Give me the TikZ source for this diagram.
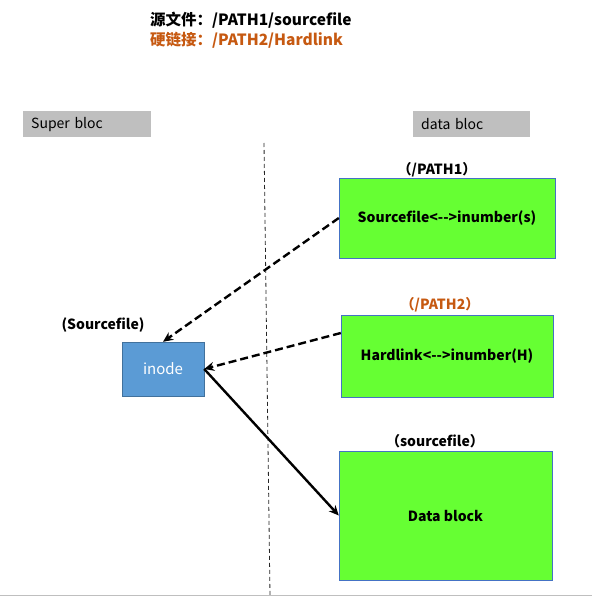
\documentclass[tikz,border=0pt]{standalone}
\usepackage{fontspec}
\setmainfont{Noto Sans CJK SC}
\usetikzlibrary{positioning,arrows.meta}
\definecolor{groen}{HTML}{66FF33}
\definecolor{rand}{HTML}{4472C4}
\definecolor{blauw}{HTML}{5B9BD5}
\definecolor{blauwrand}{HTML}{41719C}
\definecolor{oranje}{HTML}{C65911}
\definecolor{grijs}{HTML}{BFBFBF}

\begin{document}
\begin{tikzpicture}[x=1pt, y=-1pt, every node/.style={font=\fontsize{14}{16}\selectfont},
  kop/.style={anchor=west, inner sep=0pt, font=\fontsize{15.5}{18}\selectfont\bfseries},
  zone/.style={fill=grijs, anchor=north west, minimum height=26pt, inner xsep=8pt, align=left},
  blok/.style={draw=rand, fill=groen, font=\fontsize{14}{16}\selectfont\bfseries},
  naam/.style={font=\fontsize{14}{16}\selectfont\bfseries},
  pijl/.style={-{Stealth[length=10pt,width=9pt]}, line width=2.4pt},
  streep/.style={dash pattern=on 8pt off 4pt}]
  \useasboundingbox (0,0) rectangle (592,596);

  % kopregels
  \node[kop] (bron) at (150,20) {源文件：/PATH1/sourcefile};
  \node[kop, text=oranje] (link) at (150,40) {硬链接：/PATH2/Hardlink};

  % grijze zones
  \node[zone, text width=112pt] (super) at (23,111) {Super bloc};
  \node[zone, text width=101pt] (data) at (413,111) {data bloc};

  % scheidingslijn
  \draw[line width=0.8pt, dash pattern=on 4pt off 3pt, black!85] (264,143) -- (270,596);
  \draw[gray!50] (0,595) -- (592,595);

  % blokken
  \node[blok, minimum width=216pt, minimum height=80pt] (bestand) at (447,218) {Sourcefile<{-}{-}>inumber(s)};
  \node[blok, minimum width=212pt, minimum height=82pt] (hard) at (447,356) {Hardlink<{-}{-}>inumber(H)};
  \node[blok, minimum width=213pt, minimum height=129pt] (blokdata) at (445.5,515.5) {Data block};
  \node[draw=blauwrand, fill=blauw, text=white, font=\fontsize{15}{17}\selectfont,
        minimum width=82pt, minimum height=54pt] (inode) at (163,369) {inode};

  % namen boven de blokken
  \node[naam] (pad1) at (437,170) {（/PATH1）};
  \node[naam, text=oranje] (pad2) at (440,305) {（/PATH2）};
  \node[naam] (pad3) at (435,441) {（sourcefile）};
  \node[naam] (pad0) at (103,325) {(Sourcefile)};

  % pijlen
  \draw[pijl, streep] (bestand.west) -- (inode.north);
  \draw[pijl, streep] ([yshift=23pt]hard.west) -- (inode.east);
  \draw[pijl] (inode.east) -- (blokdata.west);
\end{tikzpicture}
\end{document}
